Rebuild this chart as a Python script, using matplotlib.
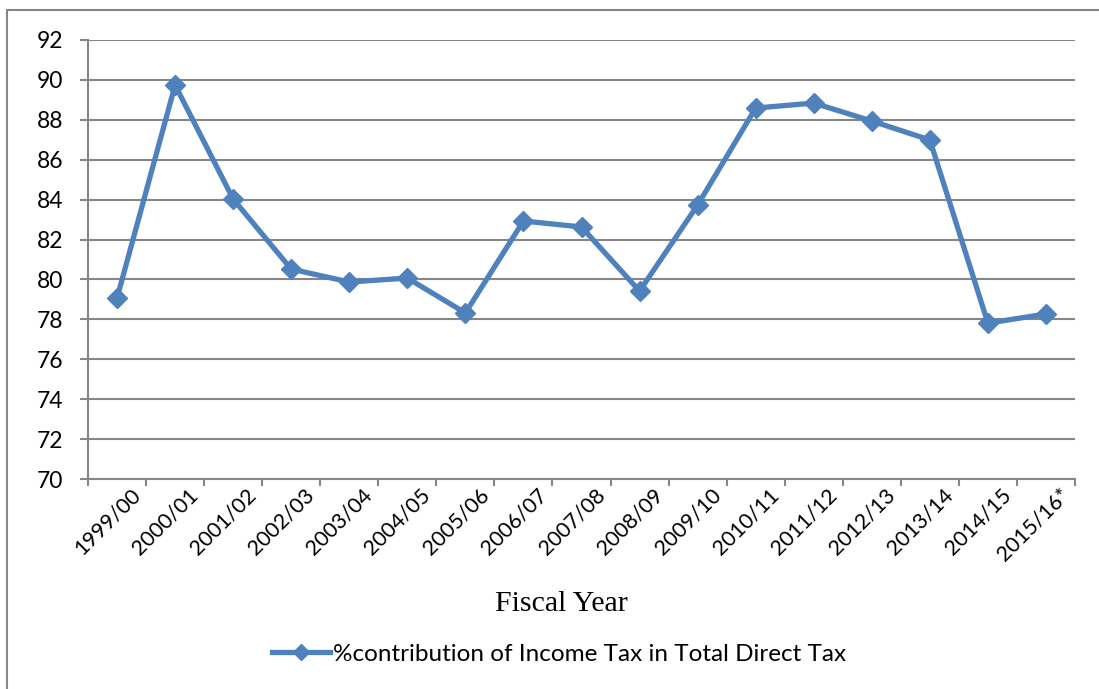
import matplotlib
matplotlib.use("Agg")
import matplotlib.pyplot as plt
import matplotlib.transforms as mtransforms
from matplotlib.patches import Rectangle

years = ["1999/00", "2000/01", "2001/02", "2002/03", "2003/04", "2004/05",
         "2005/06", "2006/07", "2007/08", "2008/09", "2009/10", "2010/11",
         "2011/12", "2012/13", "2013/14", "2014/15", "2015/16*"]
contribution = [79.07, 89.74, 84.03, 80.52, 79.87, 80.07, 78.32, 82.93, 82.63,
                79.42, 83.73, 88.59, 88.84, 87.94, 86.99, 77.81, 78.27]
yticks = list(range(70, 93, 2))
series_label = "%contribution of Income Tax in Total Direct Tax"
x_title = "Fiscal Year"

blue = "#4F81BD"
gray = "#868686"

fig = plt.figure(figsize=(10.99, 6.89), dpi=100)
ax = fig.add_axes([88/1099, 1-479/689, (1075-88)/1099, (479-40)/689])

# outer frame
fig.patches.append(Rectangle((7/1099, -0.1), 1.2, 1.1 - 10/689, transform=fig.transFigure,
                             fill=False, edgecolor=gray, linewidth=1.5, zorder=0))

xs = list(range(len(years)))
ax.plot(xs, contribution, color=blue, linewidth=3.8, marker='D', markersize=10,
        markerfacecolor=blue, markeredgecolor=blue, label=series_label, zorder=3)

ax.set_xlim(-0.5, len(years) - 0.5)
ax.set_ylim(70, 92)
ax.set_yticks(yticks)
ax.yaxis.grid(True, color=gray, linewidth=1.5)
ax.set_axisbelow(True)

for s in ["top", "right"]:
    ax.spines[s].set_visible(False)
for s in ["left", "bottom"]:
    ax.spines[s].set_color(gray)
    ax.spines[s].set_linewidth(1.5)

ax.tick_params(axis='y', length=6, width=1.5, color=gray, labelsize=16.5, pad=12)
ax.set_yticklabels([str(v) for v in yticks], fontfamily="Lato")

# x ticks at category boundaries
ax.set_xticks([i - 0.5 for i in range(len(years) + 1)])
ax.set_xticklabels([])
ax.tick_params(axis='x', which='major', length=5, width=1.5, color=gray)
ax.set_xticks(xs, minor=True)
ax.tick_params(axis='x', which='minor', length=0, pad=4)
offset = mtransforms.ScaledTranslation(13/100, 0, fig.dpi_scale_trans)
ax.set_xticklabels(years, minor=True, rotation=45, ha='right', va='top',
                   rotation_mode='anchor', fontsize=15.5, fontfamily="Lato")
for lbl in ax.get_xticklabels(minor=True):
    lbl.set_transform(lbl.get_transform() + offset)

fig.text(561/1099, 1-604/689, x_title, ha='center', va='center',
         fontsize=21.5, fontfamily="Liberation Serif")

leg = fig.legend(loc='center', bbox_to_anchor=(559/1099, 1-654/689), frameon=False,
                 prop={'family': 'Lato', 'size': 17.5}, handlelength=2.4,
                 handletextpad=0.1, markerscale=0.85)

fig.savefig("out.png", dpi=100)
